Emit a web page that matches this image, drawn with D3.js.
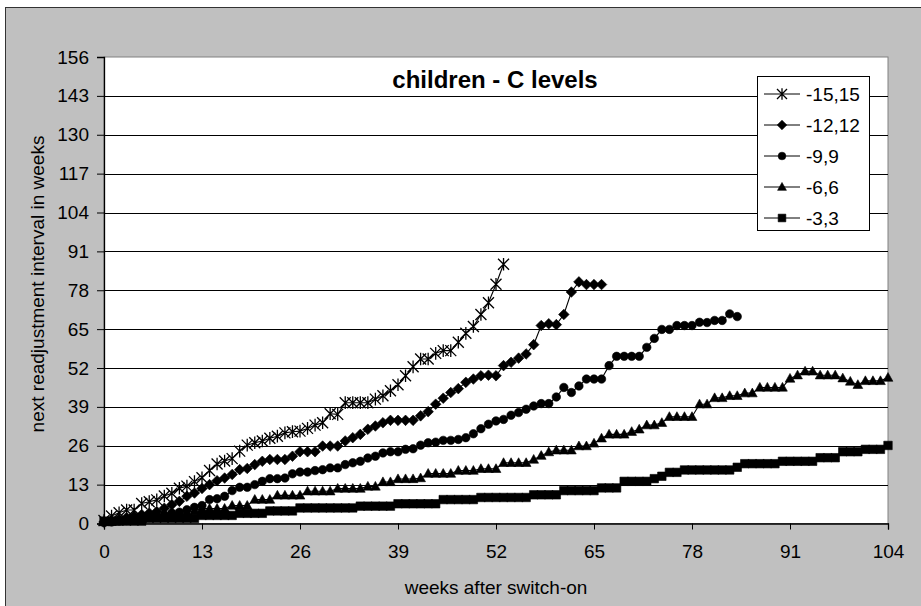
<!DOCTYPE html>
<html>
<head>
<meta charset="utf-8">
<script src="https://cdn.jsdelivr.net/npm/d3@7"></script>
<style>
  html, body { margin: 0; padding: 0; background: #ffffff; }
  svg { display: block; }
  text { font-family: Arial, "Liberation Sans", sans-serif; fill: #000; }
</style>
</head>
<body>
<svg id="chart" width="921" height="606"></svg>
<script>
// Next readjustment interval (weeks) at each week after switch-on, one value per week starting at week 0
const seriesNames = ["-15,15", "-12,12", "-9,9", "-6,6", "-3,3"];

const s15 = [1, 2.5, 3.6, 4.5, 4.5, 6.7, 7.3, 7.9, 9.2, 10.1, 11.8, 12.5, 14, 15.3, 17.7, 19.9, 20.9, 21.7,
  24.2, 26.2, 27, 27.6, 28.5, 29.2, 30.3, 30.7, 30.9, 31.8, 32.9, 33.7, 36.7, 36.5, 40.4, 40.4, 40.4, 40.4,
  41.6, 42.7, 44.4, 46.4, 49.4, 52.4, 55, 55, 56.9, 57.8, 57.8, 60.6, 63.6, 65.9, 69.9, 73.8, 80, 86.7];

const s12 = [0.5, 1, 1.5, 2, 2.5, 3, 3.5, 4, 5.1, 6.3, 7.4, 9.1, 10.2, 11.7, 13, 14.3, 15.2, 16.4, 18, 18.4,
  19.7, 20.8, 21.4, 21.4, 21.4, 22.5, 24, 24, 24, 25.9, 25.9, 25.9, 27.6, 28.7, 29.8, 31.5, 32.6, 33.7,
  34.5, 34.5, 34.5, 34.5, 36, 37.4, 39.9, 41.9, 43.8, 45.1, 47.2, 48.3, 49.4, 49.6, 49.4, 52.8, 53.9, 55.3,
  56.7, 59.8, 66.2, 66.8, 66.5, 69.9, 77.4, 80.8, 79.9, 79.9, 79.9];

const s9 = [0.3, 0.5, 0.8, 1, 1.3, 1.6, 2, 2.4, 2.9, 3.5, 3.8, 4.6, 5.4, 6, 8, 8.3, 9.1, 11, 12.1, 12.1, 13,
  14.1, 15, 15, 15.2, 16.6, 17.2, 17.2, 17.7, 18, 18.6, 18.6, 19.7, 20.3, 20.8, 21.9, 22.5, 23.6, 24, 24,
  24.8, 25, 26.2, 27, 27.2, 27.8, 27.8, 28.1, 28.7, 30, 31.7, 33.2, 34.3, 34.8, 36.2, 37.1, 38.2, 39.3,
  40.1, 40.1, 42.3, 45.5, 43.8, 46, 48.3, 48.3, 48.3, 52.8, 55.9, 55.9, 55.9, 55.9, 58.9, 61.9, 64.9, 64.9,
  66.2, 66.2, 66.2, 67.3, 67.2, 67.9, 67.9, 70.1, 69.2];

const s6 = [0.5, 0.6, 0.8, 1, 1.2, 1.5, 2, 2.2, 2.5, 2.8, 3.3, 3.7, 4.2, 5, 5, 5, 5, 6, 6, 6, 8, 8, 8,
  9.4, 9.4, 9.4, 9.4, 10.8, 10.8, 10.8, 10.8, 11.7, 11.7, 11.7, 11.7, 12.4, 12.4, 13.9, 13.9, 14.9, 14.9,
  14.9, 15.2, 16.7, 16.7, 16.7, 16.7, 17.7, 17.7, 17.7, 18.3, 18.3, 18.3, 20.3, 20.3, 20.3, 20.3, 21.4,
  22.7, 23.9, 24.5, 24.5, 24.5, 25.9, 25.9, 26.8, 28.5, 29.8, 29.8, 29.8, 30.7, 31.5, 32.9, 32.9, 33.7,
  35.7, 35.7, 35.7, 35.7, 39.9, 39.9, 42, 42, 42.7, 42.7, 43.6, 43.6, 45.5, 45.5, 45.5, 45.5, 48.5, 49.6,
  50.9, 50.9, 49.6, 49.6, 49.6, 48.6, 47.5, 46.4, 47.7, 47.7, 47.7, 48.8];

const s3 = [0.8, 0.8, 0.8, 0.8, 0.8, 0.8, 1.7, 1.7, 1.7, 1.7, 1.7, 1.7, 1.7, 2.7, 2.7, 2.7, 2.7, 2.7,
  3.4, 3.4, 3.4, 3.4, 4.2, 4.2, 4.2, 4.2, 5.2, 5.2, 5.2, 5.2, 5.2, 5.2, 5.2, 5.2, 5.8, 5.8, 5.8, 5.8, 5.8,
  6.6, 6.6, 6.6, 6.6, 6.6, 6.6, 8, 8, 8, 8, 8, 8.7, 8.7, 8.7, 8.7, 8.7, 8.7, 8.7, 9.6, 9.6, 9.6, 9.6,
  11, 11, 11, 11, 11, 11.9, 11.9, 11.9, 14.1, 14.1, 14.1, 14.1, 15, 15.8, 17.1, 17.1, 17.9, 17.9, 17.9,
  17.9, 17.9, 17.9, 17.9, 18.8, 20, 20, 20, 20, 20, 20.8, 20.8, 20.8, 20.8, 20.8, 22, 22, 22, 24, 24, 24,
  24.8, 24.8, 24.8, 26.1];

const xTicks = [0, 13, 26, 39, 52, 65, 78, 91, 104];
const yTicks = [0, 13, 26, 39, 52, 65, 78, 91, 104, 117, 130, 143, 156];

const titleText = "children - C levels";
const xTitle = "weeks after switch-on";
const yTitle = "next readjustment interval in weeks";

const seriesValues = [s15, s12, s9, s6, s3];
const markerKinds = ["star", "diamond", "circle", "triangle", "square"];

const svg = d3.select("#chart");

// chart area: grey panel with a dark frame on its left and top
svg.append("rect")
  .attr("x", 5.5).attr("y", 7.5)
  .attr("width", 940).attr("height", 620)
  .attr("fill", "#c0c0c0").attr("stroke", "#333").attr("stroke-width", 1);

const plot = { left: 104, right: 888, top: 57, bottom: 523.5 };

const x = d3.scaleLinear().domain([0, 104]).range([plot.left, plot.right]);
const y = d3.scaleLinear().domain([0, 156]).range([plot.bottom, plot.top]);

// plot area
svg.append("rect")
  .attr("x", plot.left).attr("y", plot.top)
  .attr("width", plot.right - plot.left).attr("height", plot.bottom - plot.top)
  .attr("fill", "#ffffff").attr("stroke", "#808080").attr("stroke-width", 1);

// horizontal gridlines
svg.append("g")
  .selectAll("line")
  .data(yTicks.filter(d => d > 0 && d < 156))
  .join("line")
  .attr("x1", plot.left).attr("x2", plot.right)
  .attr("y1", d => Math.round(y(d)) + 0.5).attr("y2", d => Math.round(y(d)) + 0.5)
  .attr("stroke", "#000").attr("stroke-width", 1);

// axes
const yAxis = d3.axisLeft(y).tickValues(yTicks).tickSize(7).tickPadding(8).tickFormat(d3.format("d"));
const xAxis = d3.axisBottom(x).tickValues(xTicks).tickSize(6).tickPadding(15).tickFormat(d3.format("d"));

const gy = svg.append("g").attr("transform", `translate(${plot.left},0)`).call(yAxis);
const gx = svg.append("g").attr("transform", `translate(0,${plot.bottom})`).call(xAxis);

[gx, gy].forEach(g => {
  g.select(".domain").attr("stroke", "#000").attr("stroke-width", 1.3);
  g.selectAll(".tick line").attr("stroke", "#000");
  g.selectAll(".tick text").attr("font-size", 19).attr("font-family", "Arial, 'Liberation Sans', sans-serif").attr("fill", "#000");
});

// marker shapes
function markerPath(kind, s) {
  const p = d3.path();
  if (kind === "diamond") {
    p.moveTo(0, -s); p.lineTo(s, 0); p.lineTo(0, s); p.lineTo(-s, 0); p.closePath();
  } else if (kind === "circle") {
    p.arc(0, 0, s * 0.8, 0, 2 * Math.PI);
  } else if (kind === "triangle") {
    p.moveTo(0, -s * 0.95); p.lineTo(s * 0.92, s * 0.7); p.lineTo(-s * 0.92, s * 0.7); p.closePath();
  } else if (kind === "square") {
    const h = s * 0.8;
    p.rect(-h, -h, 2 * h, 2 * h);
  } else if (kind === "star") {
    p.moveTo(-s, -s); p.lineTo(s, s);
    p.moveTo(-s, s); p.lineTo(s, -s);
    p.moveTo(0, -s * 1.15); p.lineTo(0, s * 1.15);
  }
  return p.toString();
}

function drawMarker(g, kind, s) {
  const path = g.append("path").attr("d", markerPath(kind, s));
  if (kind === "star") {
    path.attr("fill", "none").attr("stroke", "#000").attr("stroke-width", 1.3);
  } else {
    path.attr("fill", "#000").attr("stroke", "#000").attr("stroke-width", 0.6);
  }
}

const line = d3.line().x((d, i) => x(i)).y(d => y(d));

// draw the lowest series first so the upper ones sit on top
const order = [4, 3, 2, 1, 0];
order.forEach(k => {
  const vals = seriesValues[k];
  const g = svg.append("g");
  g.append("path")
    .attr("d", line(vals))
    .attr("fill", "none").attr("stroke", "#000").attr("stroke-width", 1.1);
  g.selectAll("g.m")
    .data(vals)
    .join("g")
    .attr("class", "m")
    .attr("transform", (d, i) => `translate(${x(i)},${y(d)})`)
    .each(function () { drawMarker(d3.select(this), markerKinds[k], markerKinds[k] === "star" ? 5.5 : 5.3); });
});

// title
svg.append("text")
  .attr("x", 495).attr("y", 88)
  .attr("text-anchor", "middle")
  .attr("font-size", 24).attr("font-weight", "bold")
  .text(titleText);

// axis titles
svg.append("text")
  .attr("x", 496).attr("y", 594)
  .attr("text-anchor", "middle")
  .attr("font-size", 19)
  .text(xTitle);

svg.append("text")
  .attr("transform", "translate(44,284) rotate(-90)")
  .attr("text-anchor", "middle")
  .attr("font-size", 19)
  .text(yTitle);

// legend
const legend = svg.append("g");
legend.append("rect")
  .attr("x", 757.5).attr("y", 76.5).attr("width", 112).attr("height", 154)
  .attr("fill", "#ffffff").attr("stroke", "#000").attr("stroke-width", 1);

const legendY = d3.scalePoint().domain(seriesNames).range([94, 218]);
seriesNames.forEach((name, k) => {
  const ly = legendY(name);
  legend.append("line")
    .attr("x1", 764).attr("x2", 800).attr("y1", ly).attr("y2", ly)
    .attr("stroke", "#000").attr("stroke-width", 1);
  const mg = legend.append("g").attr("transform", `translate(782,${ly})`);
  drawMarker(mg, markerKinds[k], markerKinds[k] === "star" ? 5 : 4.8);
  legend.append("text")
    .attr("x", 806).attr("y", ly + 7)
    .attr("font-size", 19)
    .text(name);
});
</script>
</body>
</html>
